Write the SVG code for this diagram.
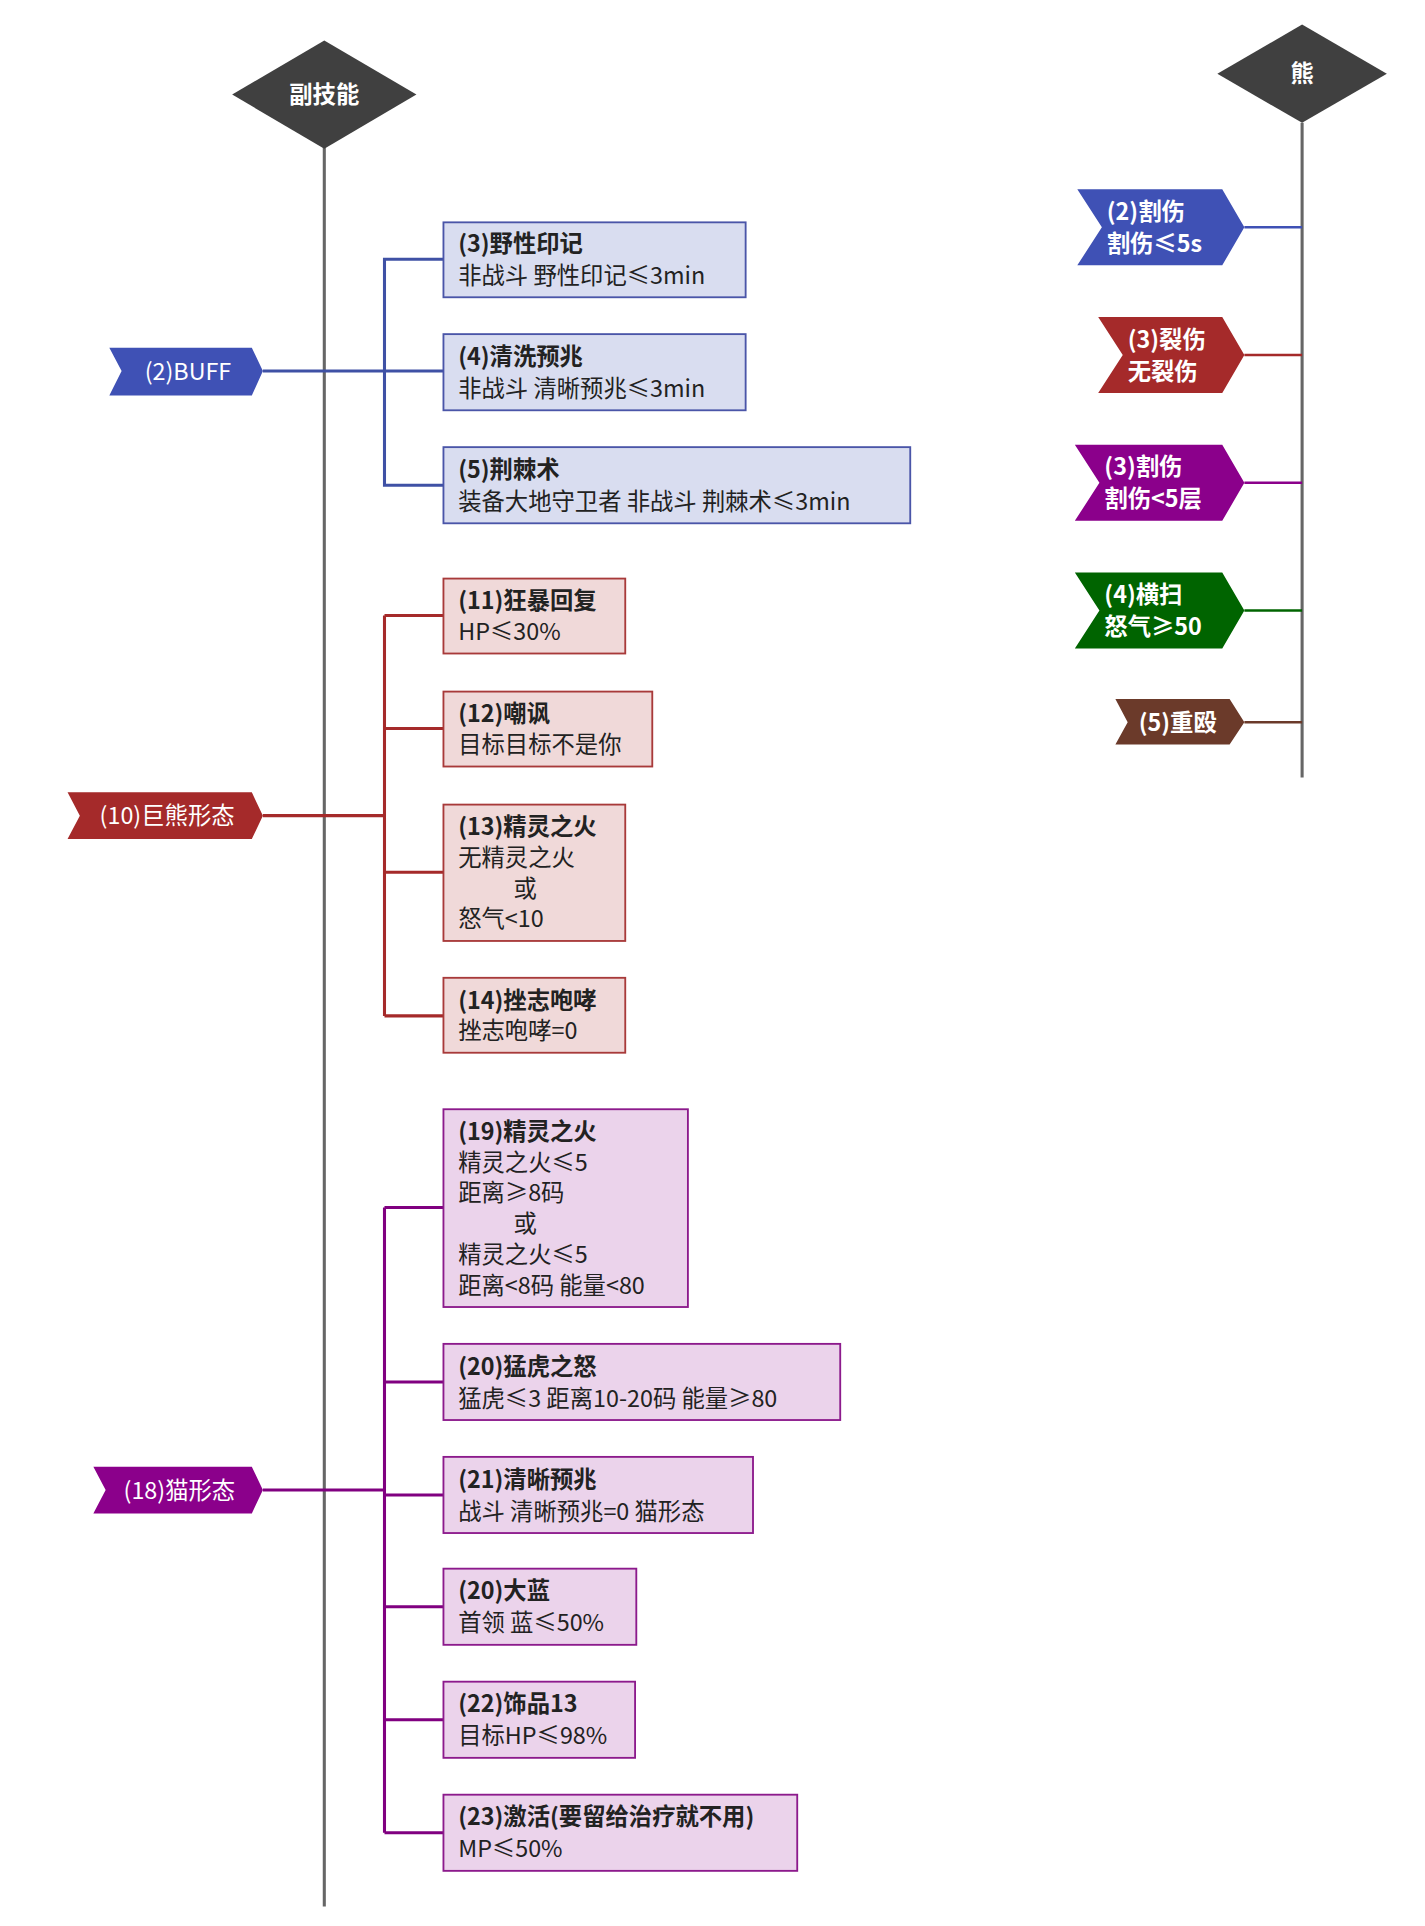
<svg xmlns="http://www.w3.org/2000/svg" width="1425" height="1926" viewBox="0 0 1425 1926">
<style>
text{font-family:"Noto Sans CJK SC","Noto Sans",sans-serif;font-size:19px;fill:#222}
.t{font-weight:bold}
.w{fill:#fff;font-weight:bold}
.bb{fill:#d9ddf0;stroke:#4a55a8;stroke-width:1.5}
.rb{fill:#f0d9d9;stroke:#a83a3a;stroke-width:1.5}
.pb{fill:#ebd3eb;stroke:#8c1a8c;stroke-width:1.5}
.cb{fill:none;stroke:#3f51a5;stroke-width:2.5}
.cr{fill:none;stroke:#a52a2a;stroke-width:2.5}
.cp{fill:none;stroke:#800080;stroke-width:2.5}
.axis{stroke:#666;stroke-width:2.5;fill:none}
</style>
<rect width="1425" height="1926" fill="#fff"/>
<g transform="scale(1.2284)">
<g id="connectors">
<line class="axis" x1="264" y1="120" x2="264" y2="1552"/>
<line class="axis" x1="1060" y1="100" x2="1060" y2="633"/>
<path class="cb" d="M214 302H361M313 302V211H361M313 302V395H361"/>
<path class="cr" d="M214 664H313M313 501V827M313 501H361M313 593H361M313 710H361M313 827H361"/>
<path class="cp" d="M214 1213H313M313 983V1492M313 983H361M313 1125H361M313 1217H361M313 1308H361M313 1400H361M313 1492H361"/>
<path stroke="#3f51b5" stroke-width="2" d="M1013 185H1060"/>
<path stroke="#a52a2a" stroke-width="2" d="M1013 289H1060"/>
<path stroke="#8b008b" stroke-width="2" d="M1013 393H1060"/>
<path stroke="#006400" stroke-width="2" d="M1013 497H1060"/>
<path stroke="#6b3a2a" stroke-width="2" d="M1013 588H1060"/>
</g>
<g id="root1"><polygon points="264,33 339,77 264,121 189,77" fill="#404040"/><text x="264" y="84" text-anchor="middle" class="t" style="fill:#fff">副技能</text></g>
<g id="root2"><polygon points="1060,20 1129,60 1060,100 991,60" fill="#404040"/><text x="1060" y="67" text-anchor="middle" class="w">熊</text></g>
<g id="buff"><polygon points="89,283 205,283 214,302 205,322 89,322 99,302" fill="#3f51b5"/><text x="153" y="309" text-anchor="middle" class="w" style="font-weight:normal">(2)BUFF</text></g>
<g id="bear"><polygon points="55,645 205,645 214,664 205,683 55,683 65,664" fill="#a52a2a"/><text x="136" y="671" text-anchor="middle" class="w" style="font-weight:normal">(10)巨熊形态</text></g>
<g id="cat"><polygon points="76,1194 205,1194 214,1213 205,1232 76,1232 86,1213" fill="#8b008b"/><text x="146" y="1220" text-anchor="middle" class="w" style="font-weight:normal">(18)猫形态</text></g>
<g id="n3"><rect class="bb" x="361" y="181" width="246" height="61"/><text x="373" y="205" class="t">(3)野性印记</text><text x="373" y="231">非战斗 野性印记≤3min</text></g>
<g id="n4"><rect class="bb" x="361" y="272" width="246" height="62"/><text x="373" y="297" class="t">(4)清洗预兆</text><text x="373" y="323">非战斗 清晰预兆≤3min</text></g>
<g id="n5"><rect class="bb" x="361" y="364" width="380" height="62"/><text x="373" y="389" class="t">(5)荆棘术</text><text x="373" y="415">装备大地守卫者 非战斗 荆棘术≤3min</text></g>
<g id="n11"><rect class="rb" x="361" y="471" width="148" height="61"/><text x="373" y="496" class="t">(11)狂暴回复</text><text x="373" y="521">HP≤30%</text></g>
<g id="n12"><rect class="rb" x="361" y="563" width="170" height="61"/><text x="373" y="588" class="t">(12)嘲讽</text><text x="373" y="613">目标目标不是你</text></g>
<g id="n13"><rect class="rb" x="361" y="655" width="148" height="111"/><text x="373" y="680" class="t">(13)精灵之火</text><text x="373" y="705">无精灵之火</text><text x="418" y="730">或</text><text x="373" y="755">怒气&lt;10</text></g>
<g id="n14"><rect class="rb" x="361" y="796" width="148" height="61"/><text x="373" y="821" class="t">(14)挫志咆哮</text><text x="373" y="846">挫志咆哮=0</text></g>
<g id="n19"><rect class="pb" x="361" y="903" width="199" height="161"/><text x="373" y="928" class="t">(19)精灵之火</text><text x="373" y="953">精灵之火≤5</text><text x="373" y="978">距离≥8码</text><text x="418" y="1003">或</text><text x="373" y="1028">精灵之火≤5</text><text x="373" y="1053">距离&lt;8码 能量&lt;80</text></g>
<g id="n20"><rect class="pb" x="361" y="1094" width="323" height="62"/><text x="373" y="1119" class="t">(20)猛虎之怒</text><text x="373" y="1145">猛虎≤3 距离10-20码 能量≥80</text></g>
<g id="n21"><rect class="pb" x="361" y="1186" width="252" height="62"/><text x="373" y="1211" class="t">(21)清晰预兆</text><text x="373" y="1237">战斗 清晰预兆=0 猫形态</text></g>
<g id="n20b"><rect class="pb" x="361" y="1277" width="157" height="62"/><text x="373" y="1302" class="t">(20)大蓝</text><text x="373" y="1328">首领 蓝≤50%</text></g>
<g id="n22"><rect class="pb" x="361" y="1369" width="156" height="62"/><text x="373" y="1394" class="t">(22)饰品13</text><text x="373" y="1420">目标HP≤98%</text></g>
<g id="n23"><rect class="pb" x="361" y="1461" width="288" height="62"/><text x="373" y="1486" class="t">(23)激活(要留给治疗就不用)</text><text x="373" y="1512">MP≤50%</text></g>
<g id="r1"><polygon points="877,154 995,154 1013,185 995,216 877,216 897,185" fill="#3f51b5"/><text x="901" y="179" class="w">(2)割伤</text><text x="901" y="205" class="w">割伤≤5s</text></g>
<g id="r2"><polygon points="894,258 995,258 1013,289 995,320 894,320 914,289" fill="#a52a2a"/><text x="918" y="283" class="w">(3)裂伤</text><text x="918" y="309" class="w">无裂伤</text></g>
<g id="r3"><polygon points="875,362 995,362 1013,393 995,424 875,424 895,393" fill="#8b008b"/><text x="899" y="387" class="w">(3)割伤</text><text x="899" y="413" class="w">割伤&lt;5层</text></g>
<g id="r4"><polygon points="875,466 995,466 1013,497 995,528 875,528 895,497" fill="#006400"/><text x="899" y="491" class="w">(4)横扫</text><text x="899" y="517" class="w">怒气≥50</text></g>
<g id="r5"><polygon points="908,569 1001,569 1013,588 1001,606 908,606 918,588" fill="#6b3a2a"/><text x="927" y="595" class="w">(5)重殴</text></g>
</g>
</svg>
